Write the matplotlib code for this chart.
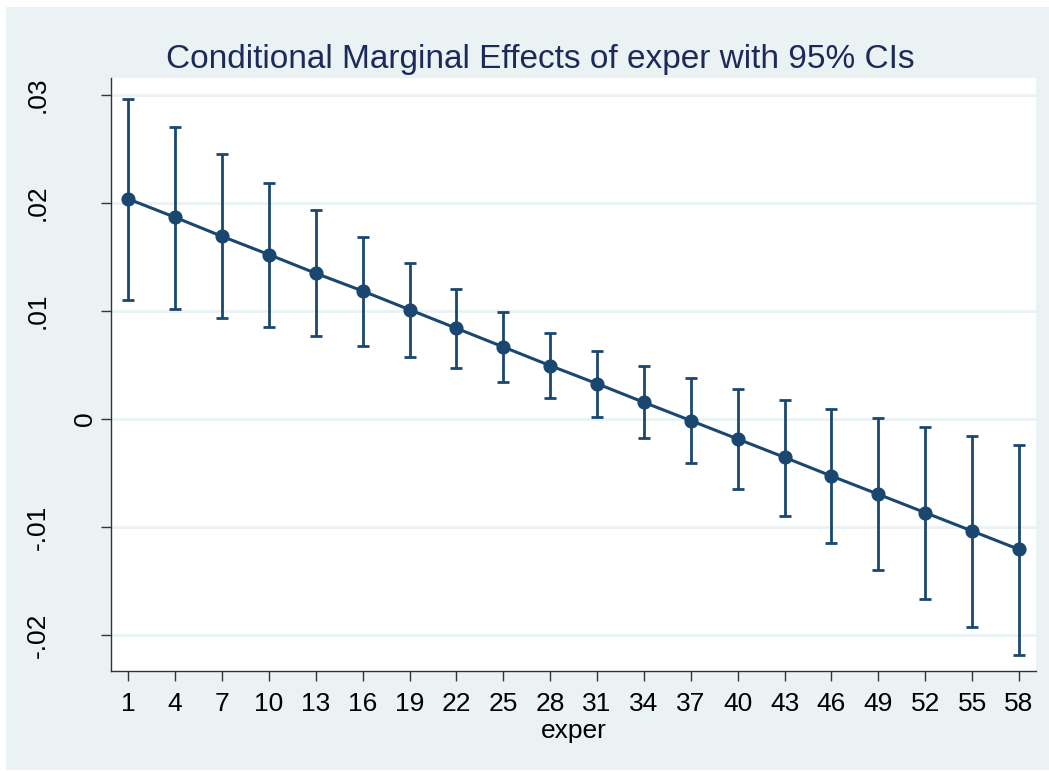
import matplotlib
matplotlib.use("Agg")
import matplotlib.pyplot as plt
from matplotlib.patches import Rectangle

# marginal effect of exper at each evaluated value, with 95% CI bounds
exper = [1, 4, 7, 10, 13, 16, 19, 22, 25, 28, 31, 34, 37, 40, 43, 46, 49, 52, 55, 58]
effect = [0.02037, 0.01867, 0.01691, 0.01522, 0.01349, 0.01185, 0.01012, 0.00840,
          0.00667, 0.00494, 0.00327, 0.00154, -0.00015, -0.00185, -0.00355,
          -0.00528, -0.00697, -0.00867, -0.01037, -0.01207]
ci_hi = [0.02963, 0.02704, 0.02451, 0.02188, 0.01932, 0.01685, 0.01441, 0.01204,
         0.00988, 0.00793, 0.00627, 0.00494, 0.00380, 0.00275, 0.00179,
         0.00090, 0.00006, -0.00077, -0.00160, -0.00244]
ci_lo = [0.01100, 0.01021, 0.00938, 0.00855, 0.00769, 0.00676, 0.00577, 0.00472,
         0.00346, 0.00198, 0.00019, -0.00179, -0.00410, -0.00648, -0.00898,
         -0.01148, -0.01401, -0.01664, -0.01923, -0.02182]

yticks = [-0.02, -0.01, 0, 0.01, 0.02, 0.03]
ylabels = ["-.02", "-.01", "0", ".01", ".02", ".03"]

navy = "#1a476f"
bg = "#eaf2f3"

plt.rcParams["font.family"] = ["Liberation Sans", "DejaVu Sans"]

W, H = 1049, 771
fig = plt.figure(figsize=(W / 100, H / 100), dpi=100, facecolor="white")
# shaded graph region behind the plot
fig.patches.append(Rectangle((6 / W, 1 / H), 1 - 6 / W, 1 - 8 / H,
                             transform=fig.transFigure, facecolor=bg,
                             edgecolor="none", zorder=-10))

ax = fig.add_axes([111 / W, 100 / H, (1036 - 111) / W, (671 - 78) / H])
ax.set_facecolor("white")

err = [[m - lo for m, lo in zip(effect, ci_lo)],
       [hi - m for m, hi in zip(effect, ci_hi)]]
ax.errorbar(exper, effect, yerr=err, fmt="none", ecolor=navy,
            elinewidth=2.0, capsize=4.4, capthick=2.0, zorder=3)
ax.plot(exper, effect, color=navy, lw=2.2, marker="o", markersize=9.2,
        markerfacecolor=navy, markeredgecolor=navy, zorder=4)

ax.set_xlim(-0.107, 59.09)
ax.set_ylim(-0.02333, 0.03157)
ax.set_xticks(exper)
ax.set_yticks(yticks)
ax.set_yticklabels(ylabels, rotation=90, va="center", ha="right")
ax.grid(axis="y", color=bg, lw=2.0, zorder=1)
ax.set_axisbelow(True)

for s in ["top", "right"]:
    ax.spines[s].set_visible(False)
for s in ["left", "bottom"]:
    ax.spines[s].set_color("#333333")
    ax.spines[s].set_linewidth(1.0)

ax.tick_params(axis="both", direction="out", length=7.2, width=1.0,
               color="#333333", labelsize=19, labelcolor="black")
ax.tick_params(axis="x", pad=8)

# the single-character label sits closer to the axis than the others
for tick, lab in zip(ax.yaxis.get_major_ticks(), ylabels):
    tick.set_pad(3 if lab == "0" else 37)

ax.set_xlabel("exper", fontsize=19)
ax.xaxis.label.set_va("baseline")
ax.xaxis.set_label_coords(0.5, (671 - 738) / (671 - 78))

fig.text(540 / W, 1 - 68 / H, "Conditional Marginal Effects of exper with 95% CIs",
         ha="center", va="baseline", fontsize=24, color="#1c2a5a")

fig.savefig("out.png", dpi=100, facecolor="white")
